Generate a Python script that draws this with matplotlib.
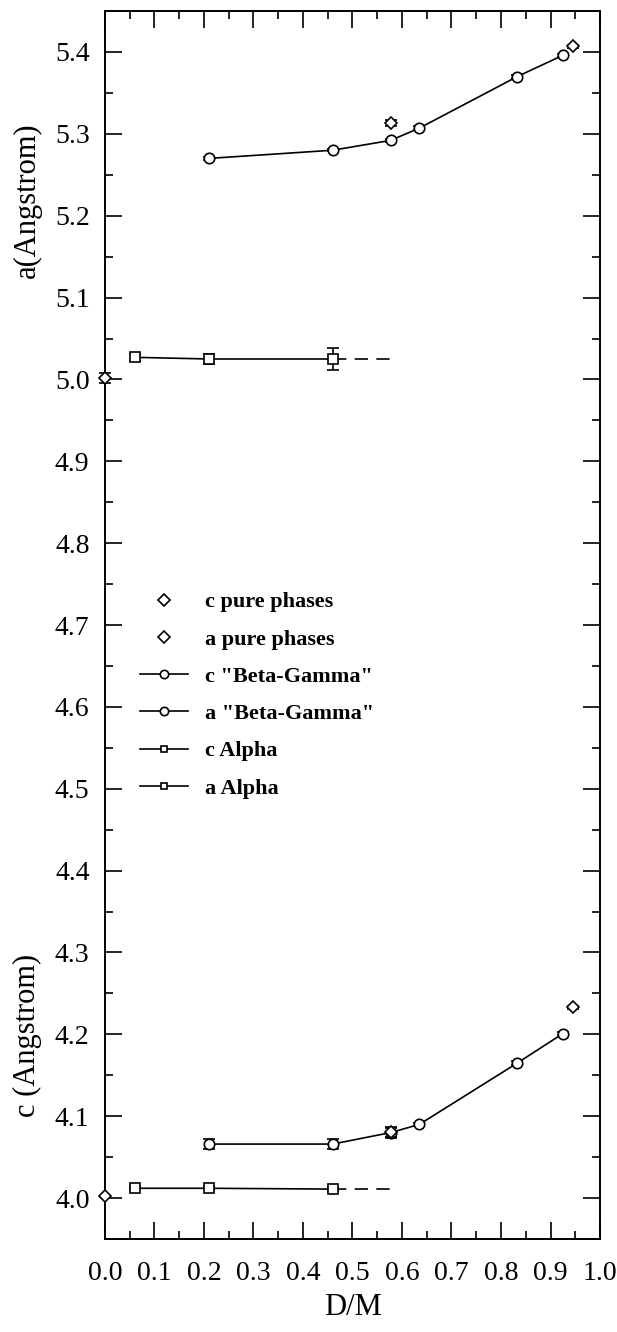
import matplotlib
matplotlib.use("Agg")
import matplotlib.pyplot as plt
from matplotlib.lines import Line2D
from matplotlib.ticker import MultipleLocator

# ---------------- data ----------------
# "Beta-Gamma" phase
bg_x = [0.21, 0.46, 0.577, 0.635, 0.833, 0.925]
bg_a = [5.270, 5.280, 5.292, 5.307, 5.370, 5.396]
bg_a_err = [0.002, 0.0015, 0.002, 0.002, 0.002, 0.002]
bg_c = [4.066, 4.066, 4.080, 4.090, 4.165, 4.201]
bg_c_err = [0.006, 0.006, 0.006, 0.002, 0.002, 0.002]

# Alpha phase
al_x = [0.06, 0.21, 0.46]
al_a = [5.027, 5.025, 5.025]
al_a_err = [0.004, 0.006, 0.013]
al_c = [4.012, 4.012, 4.011]
al_c_err = [0.001, 0.001, 0.002]
al_ext_end = 0.58  # dashed continuation end

# pure phases
pure_x = [0.0, 0.577, 0.945]
pure_a = [5.002, 5.313, 5.407]
pure_a_err = [0.006, 0.004, 0.002]
pure_c = [4.002, 4.081, 4.233]
pure_c_err = [0.001, 0.006, 0.002]

legend_labels = ['c pure phases', 'a pure phases', 'c "Beta-Gamma"',
                 'a "Beta-Gamma"', 'c Alpha', 'a Alpha']

x_ticks = [0.0, 0.1, 0.2, 0.3, 0.4, 0.5, 0.6, 0.7, 0.8, 0.9, 1.0]
y_ticks = [4.0, 4.1, 4.2, 4.3, 4.4, 4.5, 4.6, 4.7, 4.8, 4.9, 5.0, 5.1, 5.2, 5.3, 5.4]

# ---------------- style ----------------
plt.rcParams['font.family'] = ['Liberation Serif', 'DejaVu Serif']

fig = plt.figure(figsize=(6.17, 13.32), dpi=100)
ax = fig.add_axes([0.170, 0.0698, 0.8025, 0.9219])

lw = 1.2
mk = dict(markerfacecolor='white', markeredgecolor='black', markeredgewidth=1.2)
eb = dict(ecolor='black', elinewidth=1.2, capsize=4, capthick=1.2)

# Beta-Gamma
for y, e in ((bg_a, bg_a_err), (bg_c, bg_c_err)):
    ax.errorbar(bg_x, y, yerr=e, color='black', lw=lw, marker='o', ms=7.5, zorder=3, **mk, **eb)

# Alpha
for y, e in ((al_a, al_a_err), (al_c, al_c_err)):
    ax.errorbar(al_x, y, yerr=e, color='black', lw=lw, marker='s', ms=6.5, zorder=3, **mk, **eb)
    ax.plot([al_x[-1], al_ext_end], [y[-1], y[-1]], color='black', lw=lw,
            dashes=(8, 5), zorder=2)

# Pure phases
for y, e in ((pure_a, pure_a_err), (pure_c, pure_c_err)):
    ax.errorbar(pure_x, y, yerr=e, color='black', lw=0, marker='D', ms=6,
                zorder=4, clip_on=False, **mk, **eb)

ax.set_xlim(0.0, 1.0)
ax.set_ylim(3.95, 5.45)
ax.set_xticks(x_ticks)
ax.set_yticks(y_ticks)
ax.xaxis.set_minor_locator(MultipleLocator(0.05))
ax.yaxis.set_minor_locator(MultipleLocator(0.05))
ax.set_xticklabels([f"{v:.1f}" for v in x_ticks])
ax.set_yticklabels([f"{v:.1f}" for v in y_ticks])
ax.tick_params(which='both', direction='in', top=True, right=True, width=1.2,
               labelsize=20, color='black')
ax.tick_params(which='major', length=12)
ax.tick_params(which='minor', length=6)
ax.tick_params(axis='y', which='major', pad=11)
ax.tick_params(axis='x', which='major', pad=16)
for s in ax.spines.values():
    s.set_linewidth(1.4)

ax.set_xlabel('D/M', fontsize=22, labelpad=5)
fig.text(0.045, 1 - 200 / 1332, 'a(Angstrom)', rotation=90, fontsize=22,
         ha='center', va='center')
fig.text(0.045, 1 - 1035 / 1332, 'c (Angstrom)', rotation=90, fontsize=22,
         ha='center', va='center')

handles = [
    Line2D([], [], lw=0, marker='D', ms=6, **mk),
    Line2D([], [], lw=0, marker='D', ms=6, **mk),
    Line2D([], [], color='black', lw=lw, marker='o', ms=6, **mk),
    Line2D([], [], color='black', lw=lw, marker='o', ms=6, **mk),
    Line2D([], [], color='black', lw=lw, marker='s', ms=5, **mk),
    Line2D([], [], color='black', lw=lw, marker='s', ms=5, **mk),
]
ax.legend(handles, legend_labels, loc='upper left', bbox_to_anchor=(0.07, 0.527),
          frameon=False, prop=dict(weight='bold', size=16), handlelength=2.2,
          handletextpad=0.75, labelspacing=0.75, borderpad=0, borderaxespad=0)

fig.savefig('out.png', dpi=100)
